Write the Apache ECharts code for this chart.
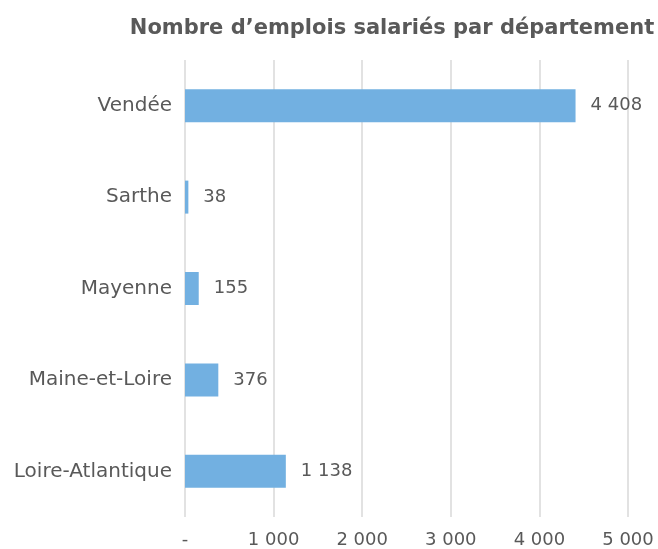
<!DOCTYPE html>
<html lang="fr">
<head>
    <meta charset="UTF-8">
    <title>Emplois salariés</title>
    <script type="text/javascript" src="https://cdn.jsdelivr.net/npm/echarts@6/dist/echarts.min.js"></script>
    <style>
        body{
            padding: 0px;
            margin: 0px;
            background-color: #ffffff;
        }
        #bar{
            width: 658px;
            height: 549px;
        }
    </style>
</head>
<body>
    <div id="bar"></div>
    <script>
        var departements = ['Loire-Atlantique', 'Maine-et-Loire', 'Mayenne', 'Sarthe', 'Vendée'];
        var emplois = [1138, 376, 155, 38, 4408];
        var axeMax = 5000;
        var axePas = 1000;

        // 1 138 -> espace comme séparateur, 0 -> "-"
        function formatFr(v) {
            if (v === 0) return '-';
            return String(v).replace(/\B(?=(\d{3})+(?!\d))/g, ' ');
        }

        var chart = echarts.init(document.getElementById('bar'));
        chart.setOption({
            animation: false,
            textStyle: { fontFamily: 'DejaVu Sans' },
            title: {
                text: 'Nombre d\u2019emplois salariés par département',
                left: 387,
                textAlign: 'center',
                top: 13,
                textStyle: { color: '#595959', fontSize: 21, fontWeight: 'bold', fontFamily: 'DejaVu Sans' }
            },
            grid: { left: 185, right: 30, top: 60, bottom: 29 },
            xAxis: {
                type: 'value',
                min: 0,
                max: axeMax,
                interval: axePas,
                axisLine: { show: false },
                axisTick: { show: false },
                splitLine: { lineStyle: { color: '#d9d9d9', width: 1.5 } },
                axisLabel: {
                    color: '#595959',
                    fontSize: 18,
                    margin: 14,
                    formatter: formatFr
                }
            },
            yAxis: {
                type: 'category',
                data: departements,
                axisLine: { show: false },
                axisTick: { show: false },
                axisLabel: { color: '#595959', fontSize: 20, margin: 13 }
            },
            series: [{
                type: 'bar',
                data: emplois,
                barWidth: 33,
                itemStyle: { color: '#72b0e1' },
                label: {
                    show: true,
                    position: 'right',
                    distance: 15,
                    color: '#595959',
                    fontSize: 18,
                    formatter: function (p) { return formatFr(p.value); }
                }
            }]
        });
    </script>
</body>
</html>
